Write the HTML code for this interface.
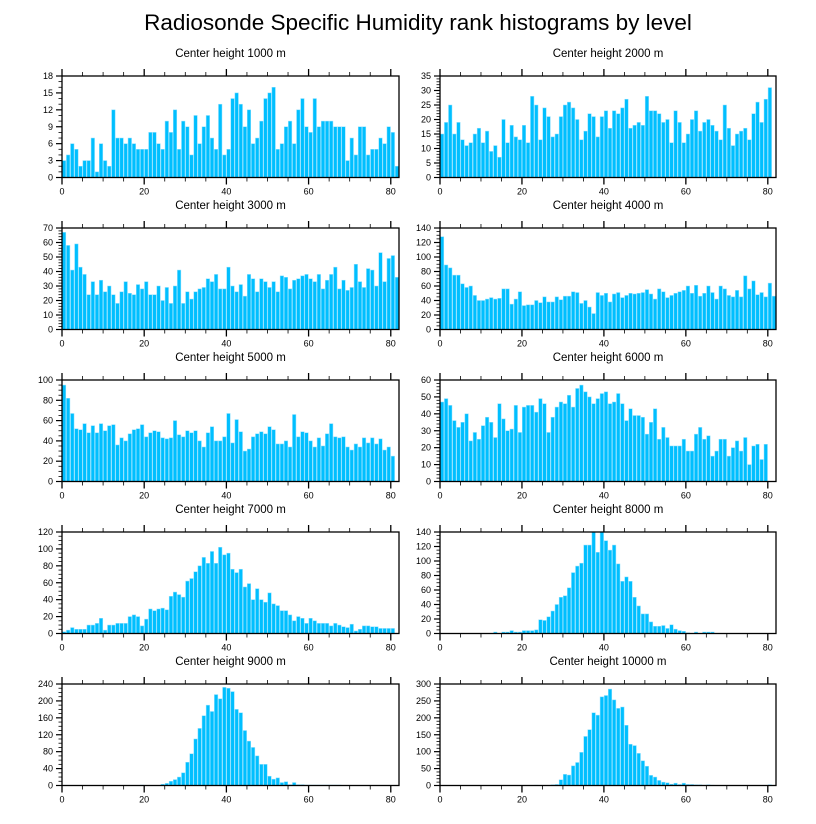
<!DOCTYPE html>
<html><head><meta charset="utf-8"><style>
html,body{margin:0;padding:0;background:#fff;}
svg{display:block;font-family:"Liberation Sans",Arial,sans-serif;}
</style></head><body>
<svg id="chart" width="816" height="824" viewBox="0 0 816 824" xmlns="http://www.w3.org/2000/svg">
<text x="418" y="30" text-anchor="middle" font-size="22.5">Radiosonde Specific Humidity rank histograms by level</text>
</svg>
<script>
const titles = ["Center height 1000 m","Center height 2000 m","Center height 3000 m","Center height 4000 m","Center height 5000 m","Center height 6000 m","Center height 7000 m","Center height 8000 m","Center height 9000 m","Center height 10000 m"];
const yMaxes = [18,35,70,140,100,60,120,140,240,300];
const yMajorSteps = [3,5,10,20,20,10,20,20,40,50];
const xTicks = [0,20,40,60,80];
const h1000 = [3,4,6,5,2,3,3,7,1,6,3,2,12,7,7,6,7,6,5,5,5,8,8,6,5,10,8,12,5,10,9,4,11,6,9,11,7,5,13,4,5,14,15,13,9,12,6,7,10,14,15,16,5,6,9,10,6,12,14,9,8,14,9,10,10,10,9,9,9,3,7,4,9,9,4,5,5,7,6,9,8,2];
const h2000 = [15,19,25,15,19,13,11,12,15,17,12,16,9,11,7,20,12,18,14,13,18,12,28,25,13,24,21,14,15,21,25,26,24,20,13,16,22,21,14,21,23,17,23,22,24,27,17,18,19,18,28,23,23,22,19,20,12,23,19,12,15,20,23,16,19,20,18,16,13,25,17,11,15,16,17,13,22,26,19,27,31];
const h3000 = [67,58,41,59,43,38,24,33,24,34,26,30,24,18,26,33,25,24,31,28,33,24,24,30,20,29,18,30,41,18,26,21,26,28,29,35,33,38,28,28,43,30,26,31,23,38,35,26,35,33,29,33,26,37,36,28,34,35,37,38,35,33,38,28,34,38,43,28,34,27,29,45,33,29,42,41,30,53,33,49,51,36];
const h4000 = [128,89,85,75,75,63,58,60,47,40,40,42,44,42,43,56,56,35,42,52,33,34,34,40,37,45,38,38,45,41,46,46,52,51,36,40,31,22,51,47,50,38,49,51,44,47,50,49,50,51,55,49,42,56,52,44,47,50,52,54,60,50,61,46,50,60,51,42,60,56,47,45,54,45,74,56,67,48,51,45,64,46];
const h5000 = [95,82,67,52,51,57,48,55,48,57,50,55,56,36,43,40,47,51,52,56,44,48,50,49,43,42,43,60,46,44,50,48,50,40,34,48,54,40,40,44,67,38,61,49,30,32,44,47,49,47,54,51,37,37,40,34,66,44,49,48,40,34,43,35,47,57,44,43,44,34,31,37,34,43,38,43,37,42,31,34,25];
const h6000 = [47,49,45,36,32,35,40,24,29,25,33,38,35,26,46,37,30,31,45,29,44,45,45,41,49,46,29,38,44,47,46,51,44,55,57,53,50,46,49,52,53,46,47,52,46,36,43,39,39,38,28,35,43,25,32,26,21,21,21,25,18,18,28,32,25,27,15,18,25,25,15,20,24,18,26,10,21,22,13,22];
const h7000 = [2,4,7,5,5,5,10,10,12,18,4,10,10,12,12,12,20,22,20,9,17,29,27,29,30,28,44,49,46,43,62,65,73,80,90,83,97,83,102,93,95,76,72,76,55,59,40,53,40,37,48,35,33,27,27,22,15,20,18,12,18,15,12,12,12,9,12,10,8,7,11,3,5,9,9,8,8,6,6,6,6];
const h8000 = [0,0,0,0,0,0,0,0,0,0,0,0,0,2,0,2,2,4,2,2,4,4,4,5,19,18,23,31,40,50,52,63,84,93,97,122,122,140,112,140,128,115,122,96,72,78,72,50,38,27,27,16,10,10,11,7,12,6,4,3,1,0,2,0,2,2,2,0,0,0,0,0,0,0,0,0,0,0,0,0,0,0];
const h9000 = [0,0,0,0,0,0,0,0,0,0,0,0,0,0,0,0,0,0,0,1,0,0,0,0,3,5,10,14,20,30,55,75,110,135,165,190,175,215,205,232,230,222,180,172,130,105,90,70,50,50,22,15,18,7,9,2,7,2,2,1,1,1,1,1,1,1,1,1,0,0,0,0,0,0,0,0,0,0,0,0,0,0];
const h10000 = [0,0,0,0,0,0,0,0,0,0,0,0,0,0,0,0,0,0,0,0,0,0,0,1,0,0,0,2,3,17,33,31,58,68,98,145,165,215,208,262,266,285,253,228,232,178,122,118,95,73,57,30,25,15,10,8,4,7,3,7,3,3,2,2,1,2,1,0,0,0,0,0,0,0,0,0,0,0,0,0,2,0];
const series = [h1000,h2000,h3000,h4000,h5000,h6000,h7000,h8000,h9000,h10000];

const NS = "http://www.w3.org/2000/svg";
const svg = document.getElementById('chart');
const X_DOMAIN = 82;
function mk(tag, attrs, parent){const e=document.createElementNS(NS,tag);for(const k in attrs)e.setAttribute(k,attrs[k]);parent.appendChild(e);return e;}

for (let p=0;p<10;p++){
  const col=p%2,row=Math.floor(p/2);
  const L = col===0?62:440, R = col===0?399:776;
  const T = 76+row*152, B = T+101.5;
  const xs = v=>L+(v/X_DOMAIN)*(R-L);
  const ys = v=>B-(v/yMaxes[p])*(B-T);
  const g = mk('g',{},svg);
  
  
  const t = mk('text',{x:(L+R)/2,y:T-19,'text-anchor':'middle','font-size':'11.5'},g);
  t.textContent=titles[p];
  
  
  const data=series[p];
  for(let i=0;i<data.length;i++){
    const v=Math.min(data[i],yMaxes[p]);
    if(v<=0) continue;
    const r=mk('rect',{x:xs(i)+0.3,y:ys(v),width:xs(1)-xs(0)-0.6,height:B-ys(v),fill:'#00bfff',stroke:'#8fe0ff','stroke-width':'0.5'},g);
    
    
  }
  const fr=mk('rect',{x:L,y:T,width:R-L,height:B-T,fill:'none',stroke:'#000','stroke-width':'1.3'},g);
  
  
  for(let v=0;v<=80;v+=5){
    const major=v%20===0, len=major?7:4, x=xs(v);
    mk('line',{x1:x,x2:x,y1:B,y2:B+len,stroke:'#000','stroke-width':major?1.3:0.8},g);
    mk('line',{x1:x,x2:x,y1:T,y2:T-len,stroke:'#000','stroke-width':major?1.3:0.8},g);
  }
  xTicks.forEach(v=>{
    const tl=mk('text',{x:xs(v),y:B+17,'text-anchor':'middle','font-size':'9'},g);
    tl.textContent=v;
    
    
  });
  const st=yMajorSteps[p], minor=st/ (st%4===0?4:(st%5===0?5:3));
  for(let v=0;v<=yMaxes[p]+1e-9;v+=minor){
    const major=Math.abs(v/st-Math.round(v/st))<1e-6, len=major?6:3.5, y=ys(v);
    mk('line',{x1:L,x2:L-len,y1:y,y2:y,stroke:'#000','stroke-width':major?1.2:0.8},g);
    if(major){
      const yl=mk('text',{x:L-9,y:y+3,'text-anchor':'end','font-size':'9'},g);
      yl.textContent=Math.round(v);
      
      
    }
  }
}
</script>
</body></html>
